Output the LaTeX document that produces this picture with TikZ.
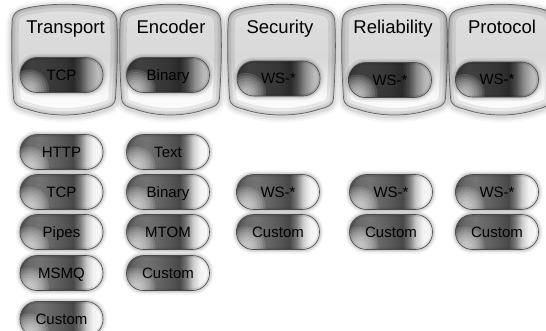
\documentclass[tikz,border=0pt]{standalone}
\usepackage{fontspec}
\setmainfont{Liberation Sans}

% left-to-right shadings of the glossy pills (25bp..75bp spans the pill)
\pgfdeclarehorizontalshading{pillgrad}{100bp}{%
  color(0bp)=(black!68); color(25bp)=(black!68); color(31bp)=(black!58);
  color(37bp)=(black!55); color(45bp)=(black!61); color(52bp)=(black!67);
  color(57bp)=(black!72); color(61bp)=(black!52); color(65bp)=(black!20);
  color(69bp)=(black!5); color(75bp)=(black!2); color(100bp)=(black!2)}
\pgfdeclarehorizontalshading{headpillgrad}{100bp}{%
  color(0bp)=(black!80); color(25bp)=(black!80); color(32bp)=(black!75);
  color(42bp)=(black!77); color(50bp)=(black!79); color(57bp)=(black!84);
  color(61bp)=(black!72); color(66bp)=(black!45); color(71bp)=(black!28);
  color(75bp)=(black!24); color(100bp)=(black!24)}
% bottom-to-top shading of the header capsules
\pgfdeclareverticalshading{capgrad}{100bp}{%
  color(0bp)=(white); color(25bp)=(white); color(35bp)=(black!3);
  color(50bp)=(black!15); color(64bp)=(black!14); color(75bp)=(black!11);
  color(100bp)=(black!11)}

% outline of a header capsule: #1 = left x, #2 = width
\newcommand\capsulepath[2]{%
  ({#1},24) .. controls ({#1},13) and ({#1+5},10) .. ({#1+15},8)
  .. controls ({#1+0.36*#2},3) and ({#1+0.64*#2},3) .. ({#1+#2-15},8)
  .. controls ({#1+#2-5},10) and ({#1+#2},13) .. ({#1+#2},24)
  .. controls ({#1+#2+1},50) and ({#1+#2},75) .. ({#1+#2-1.5},98)
  .. controls ({#1+#2-1.5},104) and ({#1+#2-6},107) .. ({#1+#2-15},109)
  .. controls ({#1+0.64*#2},117) and ({#1+0.36*#2},117) .. ({#1+15},109)
  .. controls ({#1+6},107) and ({#1+1.5},104) .. ({#1+1.5},98)
  .. controls ({#1},75) and ({#1-1},50) .. cycle}

% a capsule with soft outer glow and inner shadow
\newcommand\drawcapsule[2]{%
  \foreach \w/\o in {12/0.03, 8/0.05, 4/0.07}{%
    \draw[black, draw opacity=\o, line width=\w pt, yshift=-1.5pt] \capsulepath{#1}{#2};}
  \shade[shading=capgrad] \capsulepath{#1}{#2};
  \begin{scope}
    \clip \capsulepath{#1}{#2};
    \draw[black, draw opacity=0.08, line width=14pt] \capsulepath{#1}{#2};
    \draw[black, draw opacity=0.08, line width=7pt] \capsulepath{#1}{#2};
    \draw[black, draw opacity=0.08, line width=3pt] \capsulepath{#1}{#2};
  \end{scope}
  \draw[black!62, line width=0.7pt] \capsulepath{#1}{#2};
}

\tikzset{
  pillshape/.style={rectangle, rounded corners=17pt, minimum width=83pt,
    minimum height=35pt, inner sep=0pt, outer sep=0pt,
    shade, shading=pillgrad,
    preaction={draw=black, draw opacity=0.05, line width=8pt},
    preaction={draw=black, draw opacity=0.07, line width=5pt},
    preaction={draw=black, draw opacity=0.09, line width=2.5pt}},
  headpill/.style={pillshape, shading=headpillgrad},
  pillrim/.style={draw=black!70, line width=0.6pt, rounded corners=17pt},
  topshade/.style={black, draw opacity=0.10, line width=4pt},
  gloss/.style={white, fill opacity=0.13},
  pilltext/.style={anchor=base, inner sep=0pt, text=black, text opacity=1,
    font=\fontsize{15}{17}\selectfont},
  title/.style={anchor=base, inner sep=0pt, text=black,
    font=\fontsize{18.5}{22}\selectfont}
}

% body of a glossy pill: #1 = style, #2 = name, #3/#4 = centre
\newcommand\pill[4]{%
  \node[#1] (#2) at (#3,#4) {};
  \begin{scope}
    \clip[rounded corners=17pt] (#2.south west) rectangle (#2.north east);
    \draw[topshade, rounded corners=17pt] (#2.south west) rectangle (#2.north east);
    \foreach \r in {20,17.5,15,12.5,10,7.5,5}
      \fill[gloss] ([xshift=9pt,yshift=3pt]#2.south west) circle (\r pt);
  \end{scope}
  \draw[pillrim] (#2.south west) rectangle (#2.north east);
}

% label of a pill, baseline set so the capitals sit on the pill's centre
\newcommand\pilllabel[2]{%
  \node[pilltext] (#1Lbl) at ([yshift=-5.4pt]#1.center) {\color{black}#2};
}

\begin{document}
\begin{tikzpicture}[x=1pt, y=-1pt]
  \useasboundingbox (0,0) rectangle (546,330);
  \fill[white] (0,0) rectangle (546,330);
  \clip (0,0) rectangle (546,330);

  % header capsules
  \drawcapsule{12}{105}
  \drawcapsule{120}{101}
  \drawcapsule{228}{107}
  \drawcapsule{342}{105}
  \drawcapsule{449}{104}

  % selected option in each header
  \pill{headpill}{selTransport}{61.5}{75}
  \pill{headpill}{selEncoder}{168}{75}
  \pill{headpill}{selSecurity}{278.5}{78.5}
  \pill{headpill}{selReliability}{390}{80}
  \pill{headpill}{selProtocol}{497}{79.5}

  % transport options
  \pill{pillshape}{trHttp}{61.5}{152}
  \pill{pillshape}{trTcp}{61.5}{192}
  \pill{pillshape}{trPipes}{61.5}{232}
  \pill{pillshape}{trMsmq}{61.5}{273}
  \pill{pillshape}{trCustom}{61.5}{319}

  % encoder options
  \pill{pillshape}{enText}{168}{152}
  \pill{pillshape}{enBinary}{168}{192}
  \pill{pillshape}{enMtom}{168}{232}
  \pill{pillshape}{enCustom}{168}{273}

  % security, reliability and protocol options
  \pill{pillshape}{seWs}{278}{192}
  \pill{pillshape}{seCustom}{278}{232}
  \pill{pillshape}{reWs}{391}{192}
  \pill{pillshape}{reCustom}{391}{232}
  \pill{pillshape}{prWs}{497}{192}
  \pill{pillshape}{prCustom}{497}{232}

  % header titles
  \node[title] (tTransport)   at (65.5,33) {Transport};
  \node[title] (tEncoder)     at (171,33)  {Encoder};
  \node[title] (tSecurity)    at (280,33)  {Security};
  \node[title] (tReliability) at (393,33)  {Reliability};
  \node[title] (tProtocol)    at (502,33)  {Protocol};

  % pill labels
  \pilllabel{selTransport}{TCP}
  \pilllabel{selEncoder}{Binary}
  \pilllabel{selSecurity}{WS-*}
  \pilllabel{selReliability}{WS-*}
  \pilllabel{selProtocol}{WS-*}
  \pilllabel{trHttp}{HTTP}
  \pilllabel{trTcp}{TCP}
  \pilllabel{trPipes}{Pipes}
  \pilllabel{trMsmq}{MSMQ}
  \pilllabel{trCustom}{Custom}
  \pilllabel{enText}{Text}
  \pilllabel{enBinary}{Binary}
  \pilllabel{enMtom}{MTOM}
  \pilllabel{enCustom}{Custom}
  \pilllabel{seWs}{WS-*}
  \pilllabel{seCustom}{Custom}
  \pilllabel{reWs}{WS-*}
  \pilllabel{reCustom}{Custom}
  \pilllabel{prWs}{WS-*}
  \pilllabel{prCustom}{Custom}
\end{tikzpicture}
\end{document}
